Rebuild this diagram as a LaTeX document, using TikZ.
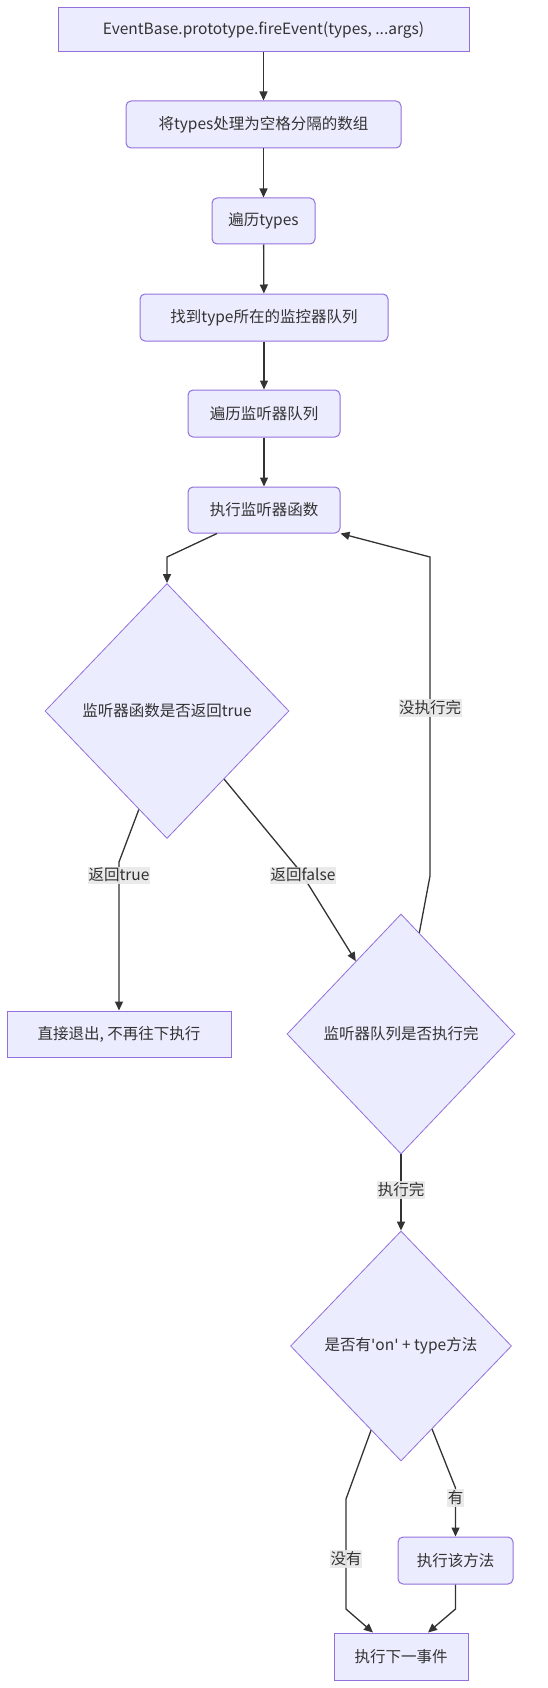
\documentclass[tikz,border=0pt]{standalone}
\usepackage{fontspec}
\setmainfont{Noto Sans CJK SC}
\usetikzlibrary{arrows.meta,shapes.geometric,calc}
\definecolor{nfill}{HTML}{ECECFF}
\definecolor{nline}{HTML}{9370DB}
\definecolor{eline}{HTML}{333333}
\definecolor{lblbg}{HTML}{E8E8E8}
\newcommand{\sq}{{\fontspec{DejaVu Sans}\char"27}}
\begin{document}
\begin{tikzpicture}[x=1pt,y=-1pt,
  every node/.style={font=\fontsize{15.5pt}{18pt}\selectfont,text=eline},
  sbox/.style={draw=nline,fill=nfill,line width=1pt,inner sep=0pt},
  rbox/.style={sbox,rounded corners=5pt},
  dbox/.style={draw=nline,fill=nfill,line width=0.8pt,shape=diamond,inner sep=0pt},
  arr/.style={draw=eline,line width=1.3pt,-{Triangle[length=9pt,width=8pt]}},
  lbl/.style={fill=lblbg,fill opacity=0.9,text opacity=1,inner xsep=0.5pt,inner ysep=1.5pt}]
\useasboundingbox (0,0) rectangle (547,1688);
\node[sbox,minimum width=411pt,minimum height=44pt] (b1) at (263.5,30) {EventBase.prototype.fireEvent(types, ...args)};
\node[rbox,minimum width=275pt,minimum height=47pt] (b2) at (263.5,124.5) {将types处理为空格分隔的数组};
\node[rbox,minimum width=103pt,minimum height=46pt] (b3) at (263.5,221) {遍历types};
\node[rbox,minimum width=248pt,minimum height=47pt] (b4) at (264,317.5) {找到type所在的监控器队列};
\node[rbox,minimum width=152pt,minimum height=47pt] (b5) at (264,413.5) {遍历监听器队列};
\node[rbox,minimum width=152pt,minimum height=46pt] (b6) at (264,510) {执行监听器函数};
\node[dbox,minimum width=244pt,minimum height=255pt] (d1) at (167,711) {};
\node at (d1.center) {监听器函数是否返回true};
\node[sbox,minimum width=224pt,minimum height=46pt] (b7) at (119,1034) {直接退出, 不再往下执行};
\node[dbox,minimum width=228pt,minimum height=240pt] (d2) at (401,1034) {};
\node at (d2.center) {监听器队列是否执行完};
\node[dbox,minimum width=221pt,minimum height=230pt] (d3) at (401,1346) {};
\node at (d3.center) {是否有\sq on\sq{} + type方法};
\node[rbox,minimum width=115pt,minimum height=47pt] (b8) at (455.5,1560.5) {执行该方法};
\node[sbox,minimum width=134pt,minimum height=47pt] (b9) at (401,1656.5) {执行下一事件};

\draw[arr] (b1) -- (b2);
\draw[arr] (b2) -- (b3);
\draw[arr] (b3) -- (b4);
\draw[arr] (b4) -- (b5);
\draw[arr] (b5) -- (b6);
\draw[arr] ([xshift=-47pt]b6.south) -- (167,557) -- (d1.north);
\draw[arr] ($(d2.north)!0.16!(d2.east)$) -- (430,876) -- (430,557) -- (b6.south east);
\node[lbl] (l1) at (430,708) {没执行完};
\draw[arr] ($(d1.south)!0.23!(d1.west)$) -- (119,862) -- (b7.north);
\node[lbl] (l2) at (119,875) {返回true};
\draw[arr] ($(d1.south)!0.467!(d1.east)$) -- (300,871) -- ($(d2.north)!0.395!(d2.west)$);
\node[lbl] (l3) at (303,875) {返回false};
\draw[arr] (d2.south) -- (d3.north);
\node[lbl] (l4) at (401,1190) {执行完};
\draw[arr] ($(d3.south)!0.27!(d3.west)$) -- (346,1499) -- (346,1609) -- ([xshift=-28pt]b9.north);
\node[lbl] (l5) at (346,1559) {没有};
\draw[arr] ($(d3.south)!0.28!(d3.east)$) -- (455.5,1488) -- (b8.north);
\node[lbl] (l6) at (455.5,1498) {有};
\draw[arr] (b8.south) -- (455.5,1609) -- ([xshift=27pt]b9.north);
\end{tikzpicture}
\end{document}
